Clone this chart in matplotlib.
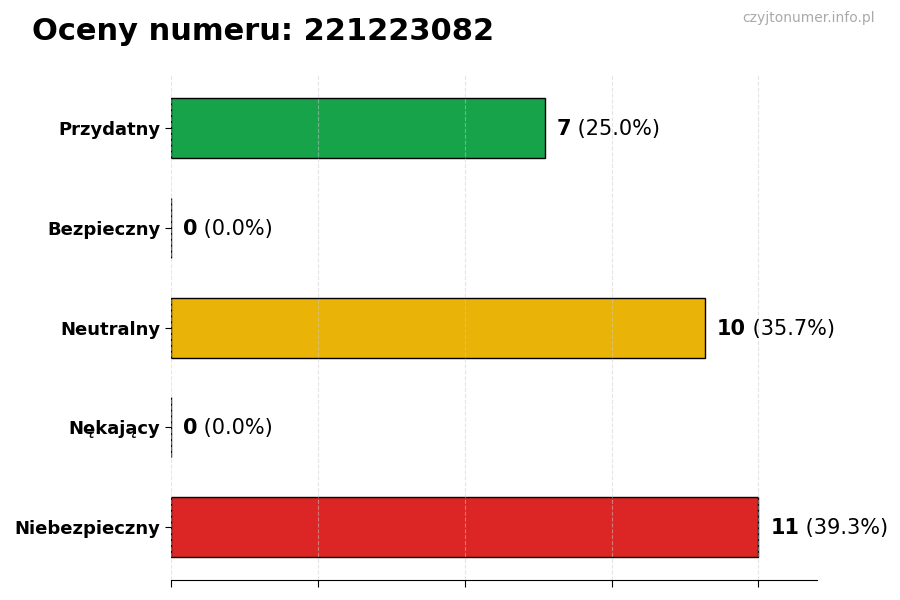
import matplotlib
matplotlib.use("Agg")
import matplotlib.pyplot as plt
import numpy as np

# data
categories = ["Przydatny", "Bezpieczny", "Neutralny", "Nękający", "Niebezpieczny"]
counts = [7, 0, 10, 0, 11]
colors = ["#16a34a", "#9ca3af", "#eab308", "#6b7280", "#dc2626"]
number = "221223082"

total = sum(counts)
vmax = max(counts)

fig = plt.figure(figsize=(9, 6), dpi=100)
ax = fig.add_axes([0.19, 0.033, 0.718, 0.842])

y = np.arange(len(categories))
ax.barh(y, counts, height=0.6, color=colors, edgecolor="black", linewidth=1, zorder=2)
ax.invert_yaxis()
ax.set_yticks(y)
ax.set_yticklabels(categories, fontsize=13, fontweight="bold")
ax.set_xlim(0, vmax * 1.1)
ax.set_xticks(np.linspace(0, vmax, 5))
ax.set_xticklabels([])
ax.tick_params(axis="x", length=5)
ax.tick_params(axis="y", length=4)

for s in ["top", "right", "left"]:
    ax.spines[s].set_visible(False)
ax.grid(axis="x", linestyle="--", color="#cccccc", alpha=0.5, zorder=3)
ax.set_axisbelow(False)

# value labels: bold count + plain percentage
for yi, v in zip(y, counts):
    pct = v / total * 100
    t = ax.text(v + vmax * 0.02, yi + 0.01, str(v), fontsize=15, fontweight="bold",
                va="center", ha="left")
    ax.annotate(f" ({pct:.1f}%)", xy=(1, 0.5), xycoords=t, fontsize=15,
                va="center", ha="left")

fig.text(0.035, 0.947, f"Oceny numeru: {number}", fontsize=22, fontweight="bold",
         va="center", ha="left")
fig.text(0.972, 0.970, "czyjtonumer.info.pl", fontsize=10, color="#aaaaaa",
         va="center", ha="right")

fig.savefig("out.png", dpi=100)
